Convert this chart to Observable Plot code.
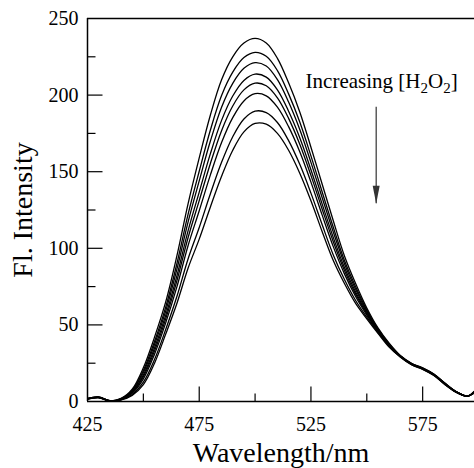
<!DOCTYPE html>
<html>
<head>
<meta charset="utf-8">
<script src="https://cdn.jsdelivr.net/npm/d3@7"></script>
<script src="https://cdn.jsdelivr.net/npm/@observablehq/plot@0.6"></script>
<style>
  html, body { margin: 0; padding: 0; background: #fff; }
  svg { display: block; }
  svg text, svg tspan { font-family: 'Liberation Serif','Times New Roman',Times,serif !important; font-variant: normal !important; }
</style>
</head>
<body>
<div id="chart"></div>
<script>
// ---- data ----
const wavelengths = [425,430,435,440,445,450,455,460,465,470,475,480,485,490,495,500,505,510,515,520,525,530,535,540,545,550,555,560,565,570,575,580,585,590,595,598];

const curve1 = [2.0,3.0,0.5,2.0,8,22,42,65,95,129,159,187,210,225,234,237,234,224,208,189,166,142,118,95,77,61,48,38,30,25,22,18,12,6.5,3.5,6.5];
const curve2 = [1.9,2.9,0.5,1.8,7.3,20.2,39.2,61.6,89.9,122.1,150.3,177.2,199.7,215.0,224.5,227.9,225.3,216.0,200.8,182.4,160.3,136.9,113.7,92.0,74.9,59.9,47.4,37.6,29.8,24.8,21.8,17.8,11.8,6.4,3.5,6.3];
const curve3 = [1.9,2.8,0.5,1.7,6.9,18.9,37.2,59.0,86.2,117.1,144.0,170.0,192.1,207.7,217.5,221.2,219.0,210.1,195.5,177.6,156.1,133.2,110.6,89.9,73.3,59.0,47.0,37.3,29.7,24.7,21.7,17.7,11.7,6.4,3.5,6.2];
const curve4 = [1.8,2.7,0.4,1.6,6.3,17.4,34.9,56.2,82.0,111.4,136.7,161.8,183.5,199.4,209.6,213.7,211.7,203.4,189.5,172.2,151.3,129.0,107.1,87.4,71.5,58.1,46.5,37.0,29.6,24.6,21.6,17.6,11.6,6.3,3.5,6.1];
const curve5 = [1.7,2.7,0.4,1.5,5.9,16.2,33.0,53.9,78.7,106.9,131.1,155.4,176.8,192.9,203.4,207.8,206.1,198.2,184.8,167.9,147.6,125.7,104.3,85.5,70.1,57.3,46.2,36.7,29.5,24.5,21.5,17.5,11.5,6.2,3.5,6.0];
const curve6 = [1.7,2.6,0.4,1.3,5.4,14.8,30.9,51.3,74.8,101.7,124.5,147.9,169.0,185.3,196.2,200.9,199.5,192.1,179.4,163.0,143.2,121.8,101.1,83.3,68.5,56.4,45.7,36.4,29.3,24.3,21.3,17.3,11.3,6.2,3.5,5.8];
const curve7 = [1.6,2.5,0.3,1.1,4.6,12.6,27.4,47.0,68.5,93.0,113.6,135.6,156.1,172.8,184.4,189.5,188.6,182.1,170.3,154.8,136.0,115.5,95.7,79.6,65.9,55.0,45.0,35.9,29.1,24.1,21.1,17.1,11.1,6.1,3.5,5.6];
const curve8 = [1.5,2.4,0.3,1.0,4,11,25,44,64,87,106,127,147,164,176,181.5,181,175,164,149,131,111,92,77,64,54,44.5,35.5,29,24,21,17,11,6,3.5,5.5];

const seriesNames = ["s1","s2","s3","s4","s5","s6","s7","s8"];
const allCurves = [curve1, curve2, curve3, curve4, curve5, curve6, curve7, curve8];

const xDomain = [425, 598.2];
const yDomain = [0, 250];
const xTickLabels = [425, 475, 525, 575];
const xMajorTicks = [475, 525, 575];
const xMinorTicks = [450, 500, 550];
const yTickLabels = [0, 50, 100, 150, 200, 250];
const yMajorTicks = [50, 100, 150, 200];
const yMinorTicks = [25, 75, 125, 175, 225];

const xTitle = "Wavelength/nm";
const yTitle = "Fl. Intensity";
const annotText = "Increasing [H2O2]";
const annotX = 522.6, annotY = 209;
const arrowX = 554.2, arrowTop = 192, arrowTip = 129;

// ---- build table ----
const rows = allCurves.flatMap((vals, i) =>
  vals.map((v, j) => ({wl: wavelengths[j], v, s: seriesNames[i]})));

const serif = "'Liberation Serif','Times New Roman',Times,serif";

function hTick(len) { return {draw(c) { c.moveTo(0, 0); c.lineTo(len, 0); }}; }
function vTick(len) { return {draw(c) { c.moveTo(0, 0); c.lineTo(0, -len); }}; }
const headSym = {draw(c) { c.moveTo(0, 0); c.lineTo(-3.5, -18); c.lineTo(3.5, -18); c.closePath(); }};

const chart = Plot.plot({
  width: 474,
  height: 468,
  marginLeft: 87,
  marginRight: 0,
  marginTop: 18,
  marginBottom: 67,
  x: {domain: xDomain},
  y: {domain: yDomain},
  style: {fontFamily: serif, background: "#fff", color: "#000"},
  marks: [
    Plot.axisX({ticks: xTickLabels, tickSize: 0, tickPadding: 15, fontSize: 20, fontFamily: serif, fontVariant: "normal", label: null}),
    Plot.axisY({ticks: yTickLabels, tickSize: 0, tickPadding: 9, fontSize: 20, fontFamily: serif, fontVariant: "normal", label: null}),
    // inward ticks
    Plot.dot(yMajorTicks, {x: () => xDomain[0], y: d => d, symbol: hTick(15), r: 3, stroke: "#000", fill: "none", strokeWidth: 1.2}),
    Plot.dot(yMinorTicks, {x: () => xDomain[0], y: d => d, symbol: hTick(8), r: 3, stroke: "#000", fill: "none", strokeWidth: 1.2}),
    Plot.dot(xMajorTicks, {x: d => d, y: () => yDomain[0], symbol: vTick(15), r: 3, stroke: "#000", fill: "none", strokeWidth: 1.2}),
    Plot.dot(xMinorTicks, {x: d => d, y: () => yDomain[0], symbol: vTick(8), r: 3, stroke: "#000", fill: "none", strokeWidth: 1.2}),
    // frame
    Plot.ruleY([yDomain[0]], {stroke: "#000", strokeWidth: 1.7}),
    Plot.ruleY([yDomain[1]], {stroke: "#000", strokeWidth: 1.7}),
    Plot.ruleX([xDomain[0]], {stroke: "#000", strokeWidth: 1.5}),
    // spectra
    Plot.line(rows, {x: "wl", y: "v", z: "s", stroke: "#000", strokeWidth: 1.3, curve: "catmull-rom", clip: true}),
    // annotation
    Plot.text([annotText], {x: () => annotX, y: () => annotY, text: d => d, textAnchor: "start", lineAnchor: "middle", fontSize: 21, fontFamily: serif, fill: "#000"}),
    Plot.ruleX([arrowX], {x: d => d, y1: () => arrowTop, y2: () => arrowTip, stroke: "#333", strokeWidth: 1.2}),
    Plot.dot([arrowX], {x: d => d, y: () => arrowTip, symbol: headSym, r: 3, fill: "#333", stroke: "none"}),
    // axis titles
    Plot.text([xTitle], {frameAnchor: "bottom", dy: 52, text: d => d, textAnchor: "middle", lineAnchor: "middle", fontSize: 28, fontFamily: serif, fill: "#000"}),
    Plot.text([yTitle], {frameAnchor: "left", dx: -64, rotate: -90, text: d => d, textAnchor: "middle", lineAnchor: "middle", fontSize: 28, fontFamily: serif, fill: "#000"})
  ]
});

// force serif face on every text element
for (const t of chart.querySelectorAll("text")) {
  t.style.fontFamily = serif;
  t.style.fontVariant = "normal";
}

// subscripts in the annotation
for (const t of chart.querySelectorAll("text")) {
  if (t.textContent === annotText) {
    t.textContent = "";
    const parts = [["Increasing [H", 0], ["2", 1], ["O", 0], ["2", 1], ["]", 0]];
    let shifted = false;
    for (const [s, sub] of parts) {
      const ts = document.createElementNS("http://www.w3.org/2000/svg", "tspan");
      ts.textContent = s;
      if (sub) { ts.setAttribute("font-size", "15"); ts.setAttribute("dy", "5"); shifted = true; }
      else if (shifted) { ts.setAttribute("dy", "-5"); shifted = false; }
      t.appendChild(ts);
    }
  }
}

document.getElementById("chart").appendChild(chart);
</script>
</body>
</html>
